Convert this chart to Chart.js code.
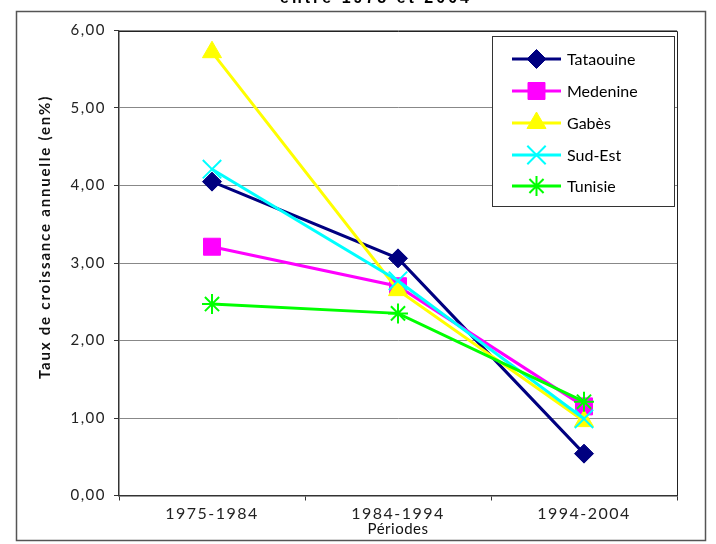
<!DOCTYPE html>
<html>
<head>
<meta charset="utf-8">
<script src="https://cdn.jsdelivr.net/npm/chart.js@4"></script>
<style>
  html, body { margin: 0; padding: 0; background: #fff; }
  #c { display: block; }
</style>
</head>
<body>
<canvas id="c" width="716" height="544"></canvas>
<script>
// ---- Data ----
const periodes = ["1975-1984", "1984-1994", "1994-2004"];
const tataouine = [4.05, 3.06, 0.54];
const medenine  = [3.21, 2.70, 1.15];
const gabes     = [5.72, 2.65, 0.96];
const sudEst    = [4.21, 2.77, 0.99];
const tunisie   = [2.47, 2.35, 1.21];
const seriesNames = ["Tataouine", "Medenine", "Gabès", "Sud-Est", "Tunisie"];
const yTicks = [0, 1, 2, 3, 4, 5, 6];
const titleText = "entre 1975 et 2004";
const yTitle = "Taux de croissance annuelle (en%)";
const xTitle = "Périodes";

const FONT = "Lato";

function ds(label, data, color, style, radius, bw, order) {
  return {
    label, data,
    borderColor: color, backgroundColor: color,
    pointBackgroundColor: color, pointBorderColor: color,
    pointStyle: style, pointRadius: radius, pointHoverRadius: radius,
    pointBorderWidth: bw, borderWidth: 3, tension: 0, fill: false,
    order
  };
}

const datasets = [
  ds(seriesNames[0], tataouine, "#000080", "rectRot", 9.5, 1, 5),
  ds(seriesNames[1], medenine,  "#FF00FF", "rect", 12, 1, 4),
  ds(seriesNames[2], gabes,     "#FFFF00", "triangle", 11, 1, 3),
  ds(seriesNames[3], sudEst,    "#00FFFF", "crossRot", 13, 2, 2),
  ds(seriesNames[4], tunisie,   "#00FF00", "star", 10, 2, 1)
];

const decor = {
  id: "decor",
  beforeDraw(chart) {
    const ctx = chart.ctx;
    ctx.save();
    ctx.fillStyle = "#fff";
    ctx.fillRect(0, 0, chart.width, chart.height);
    // outer frame
    ctx.strokeStyle = "#555";
    ctx.lineWidth = 1.5;
    ctx.strokeRect(16.5, 11.5, 689, 529);
    // cropped title
    ctx.fillStyle = "#000";
    ctx.font = "bold 16px 'Liberation Sans'";
    ctx.letterSpacing = "3px";
    ctx.textAlign = "center";
    ctx.textBaseline = "alphabetic";
    ctx.fillText(titleText, 376, 3);
    ctx.restore();
    ctx.letterSpacing = "1.5px";
  },
  afterDraw(chart) {
    const ctx = chart.ctx;
    const a = chart.chartArea;
    ctx.save();
    ctx.letterSpacing = "0px";
    // plot border top/right
    ctx.strokeStyle = "#222";
    ctx.lineWidth = 1;
    ctx.beginPath();
    ctx.moveTo(a.left, Math.round(a.top) + 0.5);
    ctx.lineTo(Math.round(a.right) + 0.5, Math.round(a.top) + 0.5);
    ctx.lineTo(Math.round(a.right) + 0.5, a.bottom);
    ctx.stroke();

    // axis titles
    ctx.fillStyle = "#111";
    ctx.font = "15px " + FONT;
    ctx.textAlign = "center";
    ctx.textBaseline = "middle";
    ctx.letterSpacing = "0.5px";
    ctx.fillText(xTitle, (a.left + a.right) / 2, 529);

    ctx.save();
    ctx.translate(45, 237);
    ctx.rotate(-Math.PI / 2);
    ctx.font = "bold 15px " + FONT;
    ctx.letterSpacing = "1.8px";
    ctx.fillText(yTitle, 0, 0);
    ctx.restore();

    // legend
    const bx = 492.5, by = 36.5, bw = 182, bh = 170;
    ctx.letterSpacing = "0px";
    ctx.fillStyle = "#fff";
    ctx.fillRect(bx, by, bw, bh);
    ctx.strokeStyle = "#333";
    ctx.lineWidth = 1;
    ctx.strokeRect(bx, by, bw, bh);
    const rows = [59, 91, 123, 155, 186];
    chart.data.datasets.forEach((d, i) => {
      const y = rows[i];
      ctx.strokeStyle = d.borderColor;
      ctx.lineWidth = 3;
      ctx.beginPath();
      ctx.moveTo(512, y);
      ctx.lineTo(561, y);
      ctx.stroke();
      ctx.fillStyle = d.pointBackgroundColor;
      ctx.strokeStyle = d.pointBorderColor;
      ctx.lineWidth = d.pointBorderWidth;
      Chart.helpers.drawPoint(ctx, {
        pointStyle: d.pointStyle, radius: d.pointRadius,
        borderWidth: d.pointBorderWidth, rotation: 0
      }, 536.5, y);
      ctx.fillStyle = "#000";
      ctx.font = "16px " + FONT;
      ctx.textAlign = "left";
      ctx.textBaseline = "middle";
      ctx.fillText(d.label, 567, y + 1);
    });
    ctx.restore();
  }
};

new Chart(document.getElementById("c"), {
  type: "line",
  data: { labels: periodes, datasets },
  plugins: [decor],
  options: {
    responsive: false,
    animation: false,
    devicePixelRatio: 1,
    layout: { padding: { top: 30.5, right: 39, left: 0, bottom: 0 } },
    plugins: { legend: { display: false }, tooltip: { enabled: false }, title: { display: false } },
    scales: {
      x: {
        type: "category",
        offset: true,
        grid: { offset: true, drawOnChartArea: false, drawTicks: true, tickLength: 5, tickColor: "#333", lineWidth: 1 },
        border: { color: "#333", width: 1.5 },
        ticks: { color: "#222", font: { family: FONT, size: 16 }, padding: 4, maxRotation: 0 },
        afterFit(s) { s.height = 48.5; }
      },
      y: {
        min: 0, max: 6,
        afterBuildTicks(s) { s.ticks = yTicks.map(v => ({ value: v })); },
        grid: { color: "#888", lineWidth: 1, tickLength: 5, tickColor: "#333" },
        border: { color: "#333", width: 1.5 },
        ticks: {
          color: "#222", font: { family: FONT, size: 15 }, padding: 8,
          callback: v => v.toFixed(2).replace(".", ",")
        },
        afterFit(s) { s.width = 119; }
      }
    }
  }
});
</script>
</body>
</html>
